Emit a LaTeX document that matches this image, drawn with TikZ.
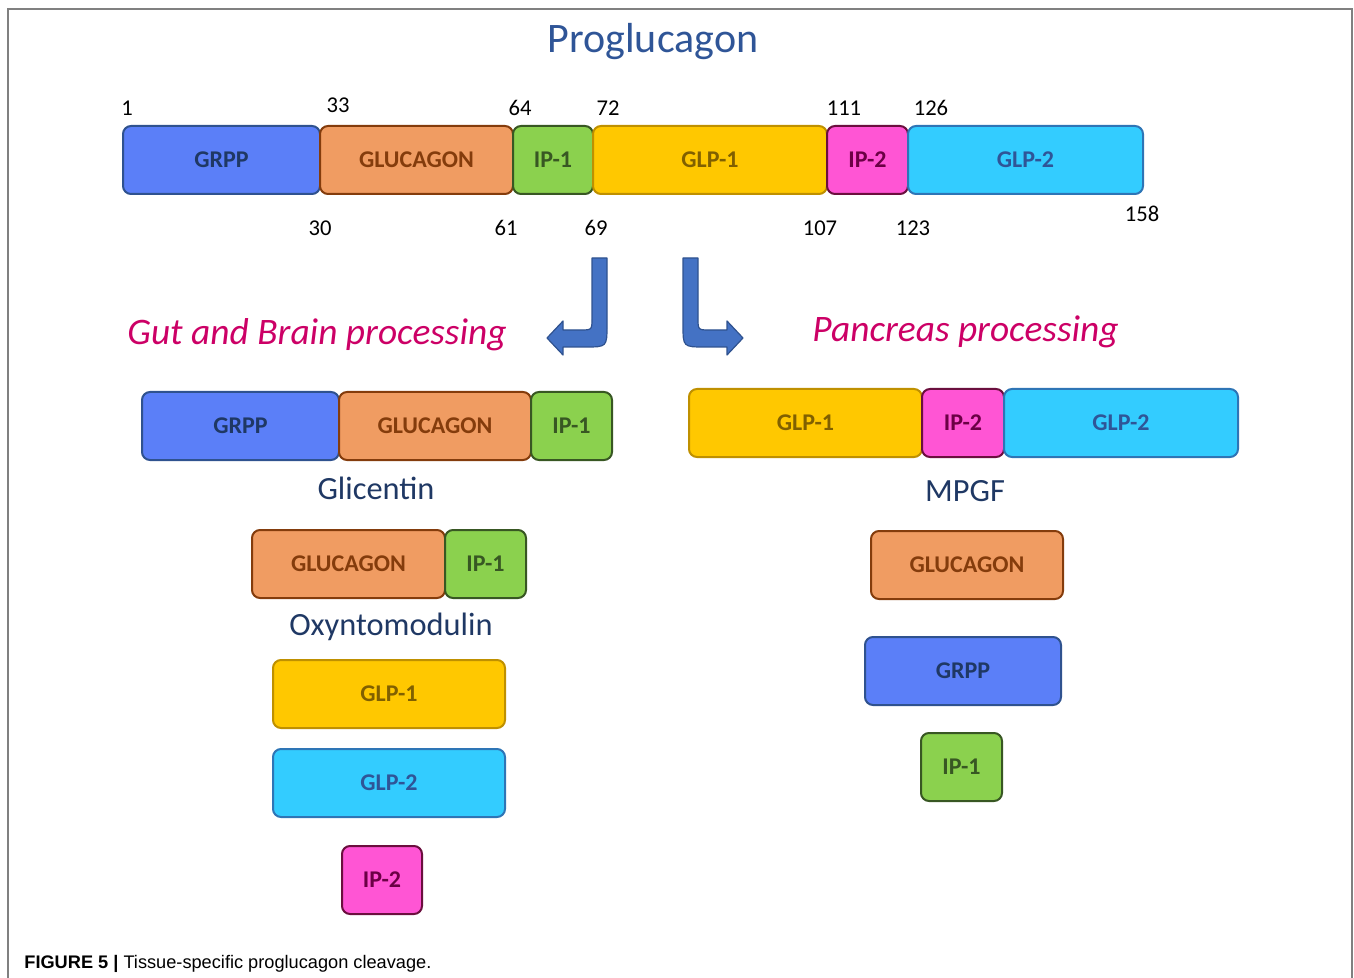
\documentclass[tikz,border=0pt]{standalone}
\usepackage{fontspec}
\setmainfont{Carlito}
\newfontfamily\capfont{Liberation Sans}

\definecolor{grppfill}{HTML}{5B7FF8}
\definecolor{grppline}{HTML}{2F528F}
\definecolor{grpptext}{HTML}{1F3864}
\definecolor{glucfill}{HTML}{F09C62}
\definecolor{glucline}{HTML}{843C0C}
\definecolor{ipAfill}{HTML}{8BD14E}
\definecolor{ipAline}{HTML}{385723}
\definecolor{glpAfill}{HTML}{FFC800}
\definecolor{glpAline}{HTML}{BF9000}
\definecolor{glpAtext}{HTML}{806000}
\definecolor{ipBfill}{HTML}{FF55D4}
\definecolor{ipBline}{HTML}{6B0F3E}
\definecolor{ipBtext}{HTML}{6B0045}
\definecolor{glpBfill}{HTML}{33CCFF}
\definecolor{glpBline}{HTML}{2E75B6}
\definecolor{glpBtext}{HTML}{2F5597}
\definecolor{procpink}{HTML}{CC0066}
\definecolor{arrowfill}{HTML}{4472C4}
\definecolor{arrowline}{HTML}{2F528F}

\tikzset{
  seg/.style={line width=1pt, rounded corners=4pt},
  segtext/.style={font=\fontsize{12}{14}\selectfont\bfseries},
  grpp/.style={seg, draw=grppline, fill=grppfill},
  gluc/.style={seg, draw=glucline, fill=glucfill},
  ipA/.style={seg, draw=ipAline, fill=ipAfill},
  glpA/.style={seg, draw=glpAline, fill=glpAfill},
  ipB/.style={seg, draw=ipBline, fill=ipBfill},
  glpB/.style={seg, draw=glpBline, fill=glpBfill},
  resnum/.style={font=\fontsize{11.3}{13}\selectfont},
  proc/.style={font=\fontsize{18.7}{22}\selectfont\itshape, text=procpink, anchor=west, inner sep=0pt},
  peptide/.style={font=\fontsize{16.2}{19}\selectfont, text=grpptext},
  bentarrow/.style={fill=arrowfill, draw=arrowline, line width=0.6pt, line join=round}
}

\begin{document}
\begin{tikzpicture}[x=0.5pt, y=-0.5pt]

  \useasboundingbox (0,0) rectangle (1354,978);

  %% Frame and caption.
  \draw [line width=1pt, color=gray] (8,978) -- (8,9) -- (1352,9) -- (1352,978);
  \node [anchor=base west, inner sep=0pt, font=\capfont\fontsize{9.1}{11}\selectfont] (caption) at (24,968)
  {\textbf{FIGURE 5 |} Tissue-specific proglucagon cleavage.};

  %% Title.
  \node [font=\fontsize{21}{25}\selectfont, text=glpBtext] (title) at (653,42) {Proglucagon};


  %% Full precursor.
  \draw [grpp] (123,126) rectangle (320,194)
  node [midway, segtext, text=grpptext] (pgrpp) {GRPP};
  \draw [gluc] (320,126) rectangle (513,194)
  node [midway, segtext, text=glucline] (pgluc) {GLUCAGON};
  \draw [ipA] (513,126) rectangle (593,194)
  node [midway, segtext, text=ipAline] (pipA) {IP-1};
  \draw [glpA] (593,126) rectangle (827,194)
  node [midway, segtext, text=glpAtext] (pglpA) {GLP-1};
  \draw [ipB] (827,126) rectangle (908,194)
  node [midway, segtext, text=ipBtext] (pipB) {IP-2};
  \draw [glpB] (908,126) rectangle (1143,194)
  node [midway, segtext, text=glpBtext] (pglpB) {GLP-2};

  %% Residue numbers.
  \node [resnum] (n1) at (127,108) {1};
  \node [resnum] (n33) at (338,105) {33};
  \node [resnum] (n64) at (520,108) {64};
  \node [resnum] (n72) at (608,108) {72};
  \node [resnum] (n111) at (844,108) {111};
  \node [resnum] (n126) at (931,108) {126};
  \node [resnum] (n30) at (320,228) {30};
  \node [resnum] (n61) at (506,228) {61};
  \node [resnum] (n69) at (596,228) {69};
  \node [resnum] (n107) at (820,228) {107};
  \node [resnum] (n123) at (913,228) {123};
  \node [resnum] (n158) at (1142,214) {158};


  %% Bent arrows.
  \draw [bentarrow] (592,258) -- (607,258) -- (607,325)
  .. controls (607,347) .. (585,347) -- (563,347) -- (563,355) -- (547,338)
  -- (563,321) -- (563,330) -- (580,330) .. controls (592,330) .. (592,318) -- cycle;
  \draw [bentarrow] (698,258) -- (683,258) -- (683,325)
  .. controls (683,347) .. (705,347) -- (727,347) -- (727,355) -- (743,338)
  -- (727,321) -- (727,330) -- (710,330) .. controls (698,330) .. (698,318) -- cycle;

  \node [proc] (gutlbl) at (127,335) {Gut and Brain processing};
  \node [proc] (panclbl) at (812,332) {Pancreas processing};


  %% Gut and brain products.
  \draw [grpp] (142,392) rectangle (339,460)
  node [midway, segtext, text=grpptext] (ggrpp) {GRPP};
  \draw [gluc] (339,392) rectangle (531,460)
  node [midway, segtext, text=glucline] (ggluc) {GLUCAGON};
  \draw [ipA] (531,392) rectangle (612,460)
  node [midway, segtext, text=ipAline] (gipA) {IP-1};
  \node [peptide] (glicentin) at (376,488) {Glicentin};

  \draw [gluc] (252,530) rectangle (445,598)
  node [midway, segtext, text=glucline] (ogluc) {GLUCAGON};
  \draw [ipA] (445,530) rectangle (526,598)
  node [midway, segtext, text=ipAline] (oipA) {IP-1};
  \node [peptide] (oxm) at (391,627) {Oxyntomodulin};

  \draw [glpA] (273,660) rectangle (505,728)
  node [midway, segtext, text=glpAtext] (gglpA) {GLP-1};
  \draw [glpB] (273,749) rectangle (505,817)
  node [midway, segtext, text=glpBtext] (gglpB) {GLP-2};
  \draw [ipB] (342,846) rectangle (422,914)
  node [midway, segtext, text=ipBtext] (gipB) {IP-2};


  %% Pancreas products.
  \draw [glpA] (689,389) rectangle (922,457)
  node [midway, segtext, text=glpAtext] (mglpA) {GLP-1};
  \draw [ipB] (922,389) rectangle (1004,457)
  node [midway, segtext, text=ipBtext] (mipB) {IP-2};
  \draw [glpB] (1004,389) rectangle (1238,457)
  node [midway, segtext, text=glpBtext] (mglpB) {GLP-2};
  \node [peptide] (mpgf) at (965,491) {MPGF};

  \draw [gluc] (871,531) rectangle (1063,599)
  node [midway, segtext, text=glucline] (pcgluc) {GLUCAGON};
  \draw [grpp] (865,637) rectangle (1061,705)
  node [midway, segtext, text=grpptext] (pcgrpp) {GRPP};
  \draw [ipA] (921,733) rectangle (1002,801)
  node [midway, segtext, text=ipAline] (pcipA) {IP-1};

\end{tikzpicture}
\end{document}
